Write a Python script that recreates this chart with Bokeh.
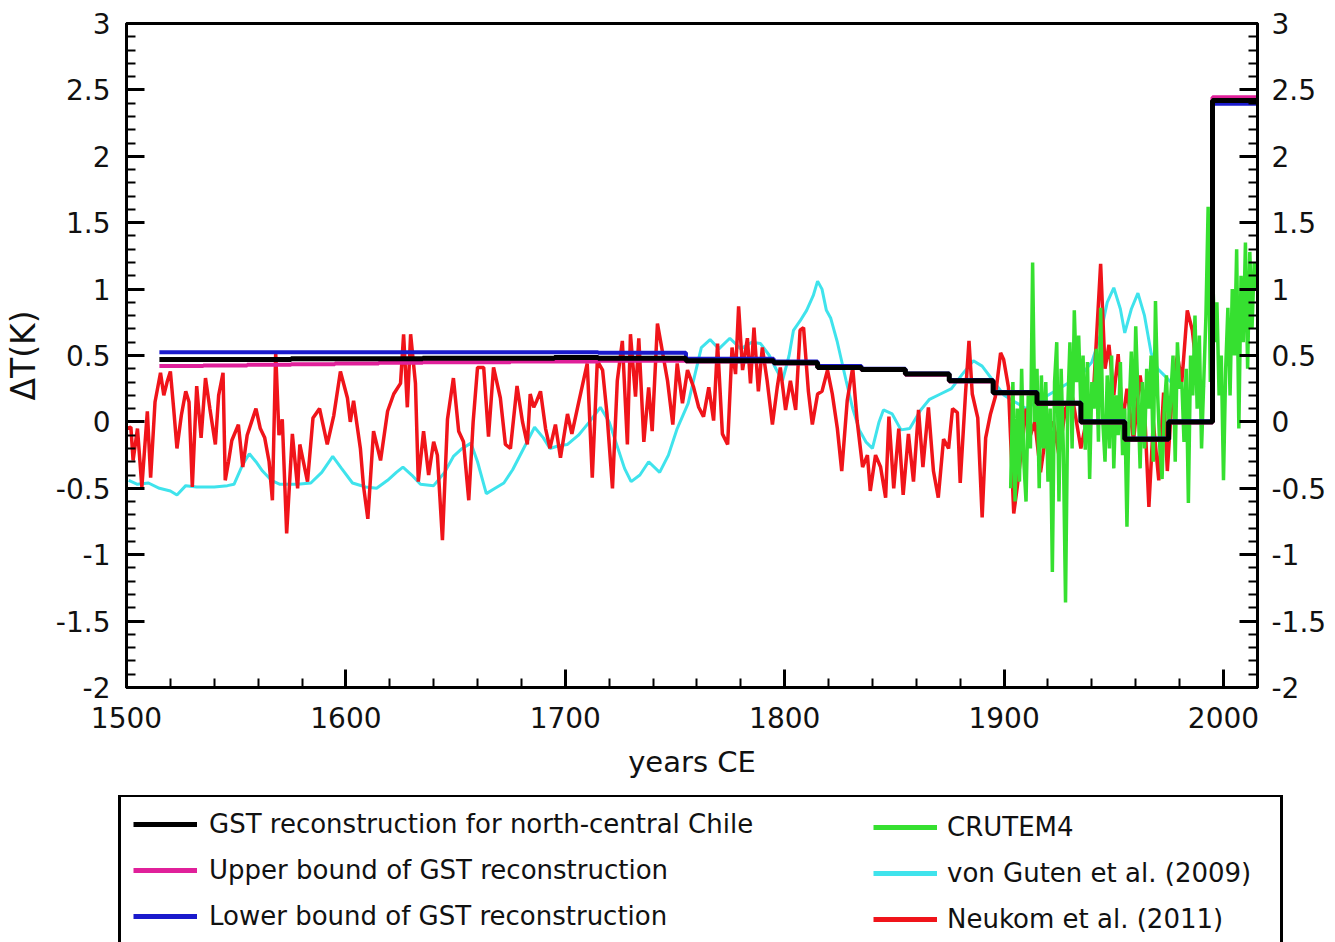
from bokeh.plotting import figure
from bokeh.layouts import column
from bokeh.models import (Range1d, LinearAxis, SingleIntervalTicker, CustomJSTickFormatter,
                          Legend, LegendItem)
from bokeh.embed import file_html
from bokeh.resources import INLINE

# ---------------- data ----------------
# GST reconstruction: step edges (years) and values (K) for each interval
gst_edges = [1515, 1535, 1555, 1575, 1595, 1615, 1635, 1655, 1675, 1695, 1715, 1755,
             1795, 1815, 1835, 1855, 1875, 1895, 1915, 1935, 1955, 1975, 1995, 2015.5]
gst_values = [0.47, 0.47, 0.47, 0.475, 0.475, 0.475, 0.48, 0.48, 0.48, 0.485, 0.48, 0.46,
              0.445, 0.41, 0.395, 0.36, 0.31, 0.22, 0.14, 0.0, -0.13, 0.0, 2.42]
upper_values = [0.42, 0.425, 0.43, 0.435, 0.44, 0.445, 0.45, 0.45, 0.455, 0.455, 0.46, 0.455,
                0.44, 0.405, 0.39, 0.355, 0.305, 0.215, 0.135, -0.005, -0.135, -0.005, 2.445]
lower_values = [0.525, 0.525, 0.525, 0.525, 0.525, 0.525, 0.525, 0.525, 0.525, 0.525, 0.52, 0.475,
                0.455, 0.42, 0.40, 0.365, 0.315, 0.225, 0.145, 0.005, -0.125, 0.005, 2.395]

# von Gunten et al. (2009)
vg_years = [1501, 1505, 1510, 1515, 1520, 1523, 1527, 1532, 1540, 1546, 1549, 1553, 1556, 1559,
            1562, 1566, 1570, 1578, 1584, 1589, 1594, 1598, 1603, 1609, 1614, 1619, 1623, 1626,
            1630, 1634, 1640, 1645, 1649, 1653, 1657, 1660, 1664, 1668, 1672, 1676, 1681, 1686,
            1690, 1693, 1697, 1701, 1706, 1711, 1716, 1720, 1724, 1727, 1730, 1734, 1738, 1743,
            1747, 1751, 1756, 1759, 1762, 1766, 1770, 1775, 1780, 1785, 1789, 1793, 1796, 1799,
            1802, 1804, 1807, 1810, 1813, 1815, 1817, 1819, 1821, 1824, 1828, 1831, 1834, 1837,
            1840, 1843, 1845, 1849, 1853, 1857, 1862, 1866, 1871, 1876, 1881, 1886, 1890, 1895,
            1900, 1905, 1910, 1915, 1920, 1925, 1930, 1935, 1940, 1944, 1947, 1950, 1953, 1955,
            1958, 1961, 1964, 1967, 1970, 1973, 1976]
vg_values = [-0.44, -0.47, -0.46, -0.5, -0.52, -0.55, -0.48, -0.49, -0.49, -0.48, -0.47, -0.32,
             -0.24, -0.3, -0.37, -0.44, -0.47, -0.47, -0.46, -0.38, -0.26, -0.35, -0.46, -0.49,
             -0.5, -0.44, -0.38, -0.34, -0.4, -0.47, -0.48, -0.38, -0.26, -0.2, -0.16, -0.3,
             -0.54, -0.5, -0.46, -0.36, -0.2, -0.04, -0.12, -0.2, -0.18, -0.17, -0.1, 0.0, 0.11,
             0.0, -0.2, -0.35, -0.45, -0.4, -0.3, -0.38, -0.25, -0.05, 0.14, 0.35, 0.56, 0.62,
             0.55, 0.63, 0.55, 0.6, 0.59, 0.5, 0.4, 0.31, 0.5, 0.69, 0.76, 0.84, 0.95, 1.06, 1.0,
             0.84, 0.78, 0.6, 0.31, 0.1, -0.06, -0.15, -0.2, 0.0, 0.09, 0.06, -0.06, -0.05, 0.09,
             0.17, 0.21, 0.25, 0.36, 0.46, 0.42, 0.31, 0.2, 0.15, 0.1, 0.15, 0.2, 0.25, 0.3, 0.35,
             0.45, 0.66, 0.9, 1.01, 0.85, 0.67, 0.85, 0.97, 0.8, 0.52, 0.4, 0.35, 0.3]

# Neukom et al. (2011)
neukom_years = [1500, 1502, 1503, 1505, 1507, 1509.5, 1511, 1513, 1515.5, 1517, 1518.5, 1520,
                1521.5, 1523, 1525, 1527, 1528.5, 1530, 1532, 1534, 1536, 1538, 1540.5, 1542,
                1544, 1545, 1546.5, 1548, 1551, 1553, 1555, 1557, 1559, 1561, 1563, 1565,
                1566.5, 1568, 1569.5, 1571, 1573, 1575.6, 1578, 1579, 1582.5, 1585, 1588,
                1591.5, 1594.5, 1597.5, 1600.7, 1602, 1603.5, 1606.6, 1608, 1610, 1612.6,
                1615.8, 1619, 1621.8, 1624.9, 1626.3, 1628, 1629.5, 1631.7, 1633, 1635.4,
                1637.7, 1640, 1641.7, 1644, 1646.3, 1649, 1651.4, 1653.6, 1656, 1658, 1660,
                1662.8, 1665, 1667.3, 1670.4, 1672.7, 1675, 1678, 1680.5, 1682.7, 1684, 1685.6,
                1687, 1688.7, 1691, 1693, 1695.5, 1697.8, 1701, 1703, 1706, 1710, 1712.3,
                1714.6, 1717, 1719, 1721.5, 1723.7, 1726, 1728.3, 1729.7, 1732, 1733.5, 1735.8,
                1738, 1739.6, 1742, 1743.4, 1745, 1746.6, 1749, 1751, 1753.4, 1755.7, 1758.5,
                1760.8, 1763, 1765.4, 1767.6, 1769.4, 1771.6, 1774, 1776, 1777.6, 1779, 1780.8,
                1783, 1784.4, 1786, 1788, 1789.8, 1792, 1794.4, 1796.6, 1798, 1800.4, 1802.6,
                1805, 1807, 1808.6, 1810.8, 1812.6, 1815, 1817, 1819.5, 1821.7, 1824, 1826,
                1828.5, 1831, 1833, 1835.5, 1837.7, 1839, 1841.4, 1843.7, 1846, 1847.5, 1849.7,
                1852, 1854, 1856.4, 1858.7, 1861, 1863, 1865.5, 1867.8, 1870, 1872.4, 1874.7,
                1876.5, 1878.7, 1880, 1882.4, 1884, 1885.5, 1888, 1890, 1891.6, 1893.8, 1896,
                1898.4, 1899.8, 1902, 1904.4, 1906, 1908, 1910, 1912, 1914, 1916.6, 1919,
                1922.5, 1925, 1928, 1931, 1935, 1938, 1941, 1944, 1946, 1947.8, 1950, 1952,
                1954, 1956, 1959, 1962, 1964, 1966, 1968, 1970.5, 1972.7, 1974.4, 1977, 1979,
                1981, 1983.5, 1985.8, 1988, 1991]
neukom_values = [-0.05, -0.04, -0.29, -0.05, -0.49, 0.08, -0.42, 0.15, 0.37, 0.2, 0.3, 0.38,
                 0.1, -0.2, 0.05, 0.23, 0.15, -0.49, 0.27, -0.12, 0.33, 0.1, -0.17, 0.2, 0.37,
                 -0.44, -0.3, -0.14, -0.02, -0.34, -0.1, 0.0, 0.1, -0.05, -0.12, -0.3, -0.59,
                 0.52, -0.1, 0.02, -0.84, -0.09, -0.5, -0.17, -0.45, 0.03, 0.1, -0.17, 0.05,
                 0.38, 0.18, 0.0, 0.16, -0.2, -0.48, -0.73, -0.07, -0.29, 0.08, 0.21, 0.29, 0.66,
                 0.11, 0.66, 0.29, -0.45, -0.07, -0.4, -0.15, -0.25, -0.89, 0.02, 0.33, -0.07,
                 -0.15, -0.59, 0.0, 0.41, 0.41, -0.11, 0.41, 0.18, -0.17, -0.2, 0.27, 0.0, -0.17,
                 0.21, 0.11, 0.16, 0.23, -0.05, -0.2, -0.02, -0.27, 0.06, -0.09, 0.14, 0.44,
                 -0.42, 0.46, 0.39, 0.06, -0.5, 0.31, 0.61, -0.17, 0.66, 0.19, 0.63, -0.15, 0.26,
                 -0.07, 0.74, 0.61, 0.46, 0.31, -0.02, 0.44, 0.14, 0.39, 0.26, 0.11, 0.04, 0.26,
                 0.01, 0.59, -0.09, -0.17, 0.56, 0.36, 0.87, 0.39, 0.63, 0.29, 0.71, 0.23, 0.56,
                 0.31, -0.02, 0.26, 0.41, 0.09, 0.31, 0.09, 0.69, 0.71, 0.23, -0.02, 0.21, 0.23,
                 0.39, 0.21, -0.05, -0.37, 0.16, 0.41, 0.01, -0.34, -0.25, -0.52, -0.25, -0.34,
                 -0.57, 0.04, -0.5, -0.05, -0.55, -0.09, -0.45, 0.09, -0.34, 0.11, -0.37, -0.57,
                 -0.13, -0.2, 0.1, 0.07, -0.46, 0.21, 0.61, 0.21, 0.03, -0.72, -0.12, 0.06, 0.19,
                 0.52, 0.47, 0.26, -0.69, -0.49, -0.2, 0.1, -0.1, 0.0, -0.38, -0.1, 0.0, -0.25,
                 0.1, 0.2, -0.2, 0.05, 0.3, 1.19, 0.4, 0.58, 0.2, 0.51, 0.0, 0.25, -0.14, 0.35,
                 0.1, -0.64, 0.0, -0.44, 0.22, -0.37, 0.3, 0.5, 0.3, 0.84, 0.69, 0.35, 0.26]

# CRUTEM4 (annual)
crutem_years = list(range(1903, 2016))
crutem_values = [-0.5, 0.3, -0.6, 0.1, -0.45, 0.4, -0.3, -0.6, 0.2, -0.2,            # 1903-1912
                 1.2, 0.0, 0.4, -0.5, 0.35, -0.2, 0.3, -0.45, 0.1, -1.13,             # 1913-1922
                 0.3, 0.6, -0.6, 0.4, -0.2, -1.36, 0.1, 0.6, -0.2, 0.84,              # 1923-1932
                 0.3, 0.65, 0.1, 0.5, -0.21, 0.45, -0.43, 0.3, 0.1, 0.55,             # 1933-1942
                 -0.15, 0.86, 0.0, -0.3, 0.35, -0.2, 0.5, -0.35, 0.2, -0.1,           # 1943-1952
                 0.45, -0.25, 0.1, -0.79, 0.1, 0.53, -0.1, 0.72, 0.2, -0.35,          # 1953-1962
                 0.3, -0.2, 0.4, 0.1, 0.5, -0.3, 0.91, 0.2, -0.2, -0.43,              # 1963-1972
                 0.1, 0.35, -0.1, 0.2, 0.5, -0.3, 0.6, 0.25, 0.3, -0.15,              # 1973-1982
                 0.4, -0.61, 0.5, 0.2, 0.8, 0.1, 0.65, -0.2, 0.3, 0.8,                # 1983-1992
                 1.62, 0.3, 1.16, 0.6, 0.9, 0.2, 0.5, -0.44, 0.4, 0.86,               # 1993-2002
                 0.2, 1.0, 0.5, 1.3, -0.05, 1.1, 0.6, 1.35, 0.4, 1.28,                # 2003-2012
                 0.7, 1.2, 1.0]                                                       # 2013-2015

x_ticks_interval = 100
y_ticks_interval = 0.5

labels = ["GST reconstruction for north-central Chile",
          "Upper bound of GST reconstruction",
          "Lower bound of GST reconstruction",
          "CRUTEM4",
          "von Guten et al. (2009)",
          "Neukom et al. (2011)"]

colors = {"gst": "black", "up": "#e0209a", "lo": "#1a1acc",
          "cru": "#36e030", "vg": "#3fe3ec", "nk": "#f0141a"}
widths = {"gst": 5, "up": 4, "lo": 4, "cru": 3.5, "vg": 3, "nk": 3.5}

# ---------------- main figure ----------------
FONT = "DejaVu Sans"

p = figure(width=1335, height=795, x_range=Range1d(1500, 2015.5), y_range=Range1d(-2, 3),
           output_backend="svg", toolbar_location=None, frame_align=False,
           min_border_left=126, min_border_right=78, min_border_top=23, min_border_bottom=108,
           background_fill_color="white", border_fill_color="white")
p.xgrid.grid_line_color = None
p.ygrid.grid_line_color = None
p.outline_line_color = "black"
p.outline_line_width = 3
p.outline_line_alpha = 1

yfmt = CustomJSTickFormatter(code="return String(Math.round(tick*10)/10);")


def style_axis(ax):
    ax.axis_line_width = 3
    ax.axis_line_color = "black"
    ax.major_tick_in = 18
    ax.major_tick_out = 0
    ax.minor_tick_in = 9
    ax.minor_tick_out = 0
    ax.major_tick_line_width = 3
    ax.minor_tick_line_width = 2
    ax.major_tick_line_color = "black"
    ax.minor_tick_line_color = "black"
    ax.major_label_text_font = FONT
    ax.major_label_text_font_size = "28px"
    ax.major_label_text_color = "#111111"


xax = p.xaxis[0]
xax.ticker = SingleIntervalTicker(interval=x_ticks_interval, num_minor_ticks=5)
style_axis(xax)
xax.major_label_standoff = 19
xax.axis_label = "years CE"
xax.axis_label_text_font = FONT
xax.axis_label_text_font_size = "29px"
xax.axis_label_text_font_style = "normal"
xax.axis_label_text_color = "#111111"
xax.axis_label_standoff = 14

yax = p.yaxis[0]
yax.ticker = SingleIntervalTicker(interval=y_ticks_interval, num_minor_ticks=5)
yax.formatter = yfmt
style_axis(yax)
yax.major_label_standoff = 16
yax.axis_label = "\u0394T(K)"
yax.axis_label_text_font = FONT
yax.axis_label_text_font_size = "33px"
yax.axis_label_text_font_style = "normal"
yax.axis_label_text_color = "#111111"
yax.axis_label_standoff = 10

ryax = LinearAxis(ticker=SingleIntervalTicker(interval=y_ticks_interval, num_minor_ticks=5),
                  formatter=yfmt)
style_axis(ryax)
ryax.major_label_standoff = 14
p.add_layout(ryax, "right")

# ---------------- series ----------------
p.line(vg_years, vg_values, line_color=colors["vg"], line_width=widths["vg"])
p.line(neukom_years, neukom_values, line_color=colors["nk"], line_width=widths["nk"])
p.line(crutem_years, crutem_values, line_color=colors["cru"], line_width=widths["cru"])
p.step(gst_edges, upper_values + upper_values[-1:], mode="after",
       line_color=colors["up"], line_width=widths["up"])
p.step(gst_edges, lower_values + lower_values[-1:], mode="after",
       line_color=colors["lo"], line_width=widths["lo"])
p.step(gst_edges, gst_values + gst_values[-1:], mode="after",
       line_color=colors["gst"], line_width=widths["gst"])

# ---------------- legend panel (below the plot) ----------------
q = figure(width=1335, height=147, x_range=Range1d(0, 1), y_range=Range1d(0, 1),
           output_backend="svg", toolbar_location=None, x_axis_type=None, y_axis_type=None,
           frame_align=False,
           min_border_left=0, min_border_right=0, min_border_top=0, min_border_bottom=0,
           background_fill_color="white", border_fill_color="white")
q.outline_line_color = None
q.xgrid.grid_line_color = None
q.ygrid.grid_line_color = None

keys = ["gst", "up", "lo", "cru", "vg", "nk"]
nan = float("nan")
# legend-only renderers (a single NaN point: nothing is drawn in the panel itself)
dummies = {k: q.line(x=[nan], y=[nan], line_color=colors[k], line_width=5) for k in keys}

common = dict(orientation="vertical", padding=12, spacing=16, glyph_width=64, glyph_height=30,
              label_height=30, label_text_font=FONT, label_text_font_size="26px",
              label_text_color="#111111", margin=0)

leg1 = Legend(items=[LegendItem(label=labels[i], renderers=[dummies[keys[i]]]) for i in range(3)],
              location=(118, -4), label_width=1059, label_standoff=12,
              border_line_color="black", border_line_width=3, border_line_alpha=1,
              background_fill_color="white", background_fill_alpha=1, **common)
leg2 = Legend(items=[LegendItem(label=labels[i], renderers=[dummies[keys[i]]]) for i in range(3, 6)],
              location=(861, -4), label_standoff=10,
              border_line_alpha=0, background_fill_alpha=0, **common)
q.add_layout(leg1)
q.add_layout(leg2)

layout = column(p, q, spacing=0)
open("out.html", "w").write(file_html(layout, INLINE))
